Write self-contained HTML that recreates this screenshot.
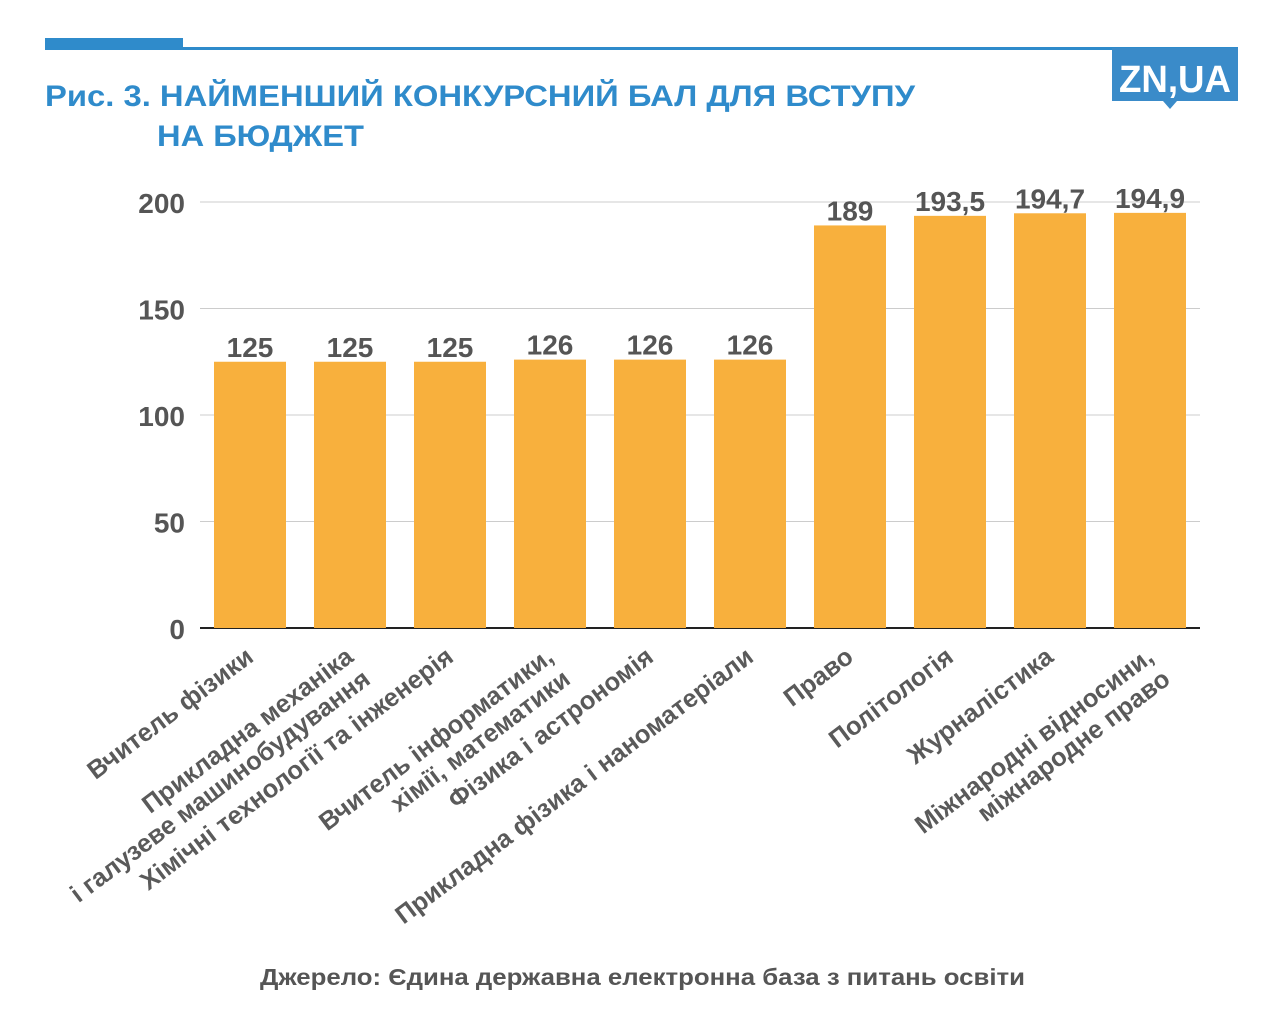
<!DOCTYPE html>
<html><head><meta charset="utf-8"><style>
body{margin:0;background:#fff;}
svg{display:block;font-family:"Liberation Sans","DejaVu Sans",sans-serif;}
</style></head><body>
<svg id="c" width="1280" height="1026">
<rect x="45" y="38" width="138" height="12" fill="#2f8bcb"/>
<rect x="183" y="47" width="1055" height="3" fill="#2f8bcb"/>
<g>
<rect x="1112" y="48" width="126" height="53" fill="#3a8bc9"/>
<polygon points="1163,101 1177,101 1170,109" fill="#3a8bc9"/>
<text x="1175" y="92" text-anchor="middle" font-size="38" font-weight="bold" fill="#fff" textLength="112" lengthAdjust="spacingAndGlyphs">ZN,UA</text>
</g>
<text x="45" y="106" font-size="30" font-weight="bold" fill="#2f8bcb" textLength="870" lengthAdjust="spacingAndGlyphs">Рис. 3. НАЙМЕНШИЙ КОНКУРСНИЙ БАЛ ДЛЯ ВСТУПУ</text>
<text x="157" y="146" font-size="30" font-weight="bold" fill="#2f8bcb" textLength="207" lengthAdjust="spacingAndGlyphs">НА БЮДЖЕТ</text>
<g id="grid"></g><g id="bars"></g><g id="labels"></g>
<text x="260" y="985" font-size="23" font-weight="bold" fill="#555" textLength="765" lengthAdjust="spacingAndGlyphs">Джерело: Єдина державна електронна база з питань освіти</text>
</svg>
<script>
const categories=[["Вчитель фізики"],["Прикладна механіка","і галузеве машинобудування"],["Хімічні технології та інженерія"],["Вчитель інформатики,","хімії, математики"],["Фізика і астрономія"],["Прикладна фізика і наноматеріали"],["Право"],["Політологія"],["Журналістика"],["Міжнародні відносини,","міжнародне право"]];
const values=[125,125,125,126,126,126,189,193.5,194.7,194.9];
const valueLabels=["125","125","125","126","126","126","189","193,5","194,7","194,9"];
const ticks=[0,50,100,150,200];
const NS="http://www.w3.org/2000/svg";
const X0=200,X1=1200,Y0=628,Y200=202;
const y=v=>Y0-(Y0-Y200)*v/200;
const step=(X1-X0)/categories.length;
const xc=i=>X0+step*(i+0.5);
function mk(t,a,p){const e=document.createElementNS(NS,t);for(const k in a)e.setAttribute(k,a[k]);p.appendChild(e);return e;}
const G=document.getElementById('grid'),B=document.getElementById('bars'),L=document.getElementById('labels');
ticks.forEach(t=>{
 const l=mk('line',{x1:X0,x2:X1,y1:y(t),y2:y(t),stroke:t===0?'#222':'#ccc','stroke-width':t===0?2:1},G);
 
 
 const tx=mk('text',{x:185,y:y(t)+11,'text-anchor':'end','font-size':28,'font-weight':'bold',fill:'#555'},G);
 tx.textContent=t;
 
 
});
values.forEach((v,i)=>{
 const r=mk('rect',{x:xc(i)-36,y:y(v),width:72,height:Y0-y(v),fill:'#f8b03d'},B);
 
 
 const t=mk('text',{x:xc(i),y:y(v)-5,'text-anchor':'middle','font-size':28,'font-weight':'bold',fill:'#555'},L);
 t.textContent=valueLabels[i];
 
 
 const ax=xc(i)+5,ay=660;
 const g=mk('text',{transform:`translate(${ax},${ay}) rotate(-37)`,'text-anchor':'end','font-size':25.5,'font-weight':'bold',fill:'#5a5a5a'},L);
 
 
 categories[i].forEach((s,j)=>{const ts=mk('tspan',{x:0,y:j*28},g);ts.textContent=s;});
});
</script>
</body></html>
